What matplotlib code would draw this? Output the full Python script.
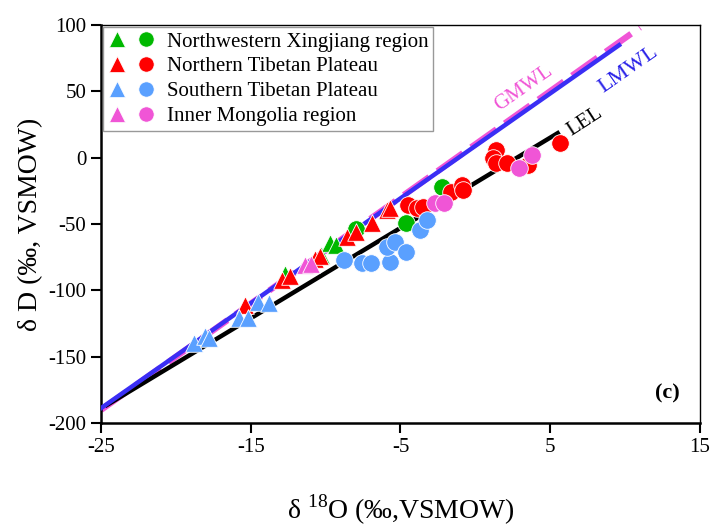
import numpy as np
import matplotlib.pyplot as plt
from matplotlib.legend_handler import HandlerTuple
from matplotlib.lines import Line2D

plt.rcParams["font.family"] = ["Liberation Serif", "DejaVu Serif"]
plt.rcParams["mathtext.fontset"] = "custom"
plt.rcParams["mathtext.rm"] = "Liberation Serif"
plt.rcParams["axes.unicode_minus"] = False

# Northwestern Xingjiang region
nx_tri_x = [-12.7, -10.3, -9.7, -9.3]
nx_tri_y = [-88, -73, -64, -65.5]
nx_cir_x = [-8.0, -4.6, -2.25]
nx_cir_y = [-53.5, -49.5, -22.5]

# Northern Tibetan Plateau
nt_tri_x = [-15.4, -12.9, -12.4, -10.7, -10.4, -8.6, -8.0, -6.9, -5.9, -5.7]
nt_tri_y = [-111, -92, -89, -76, -74, -59.5, -56, -49.5, -39.5, -38]
nt_cir_x = [-4.5, -3.9, -3.5, -1.6, -0.9, -0.8, 1.4, 1.2, 1.4, 2.1, 3.5, 5.65]
nt_cir_y = [-35.6, -38, -37, -25.6, -20.6, -24.3, 5.8, -0.5, -4.2, -4.2, -5.5, 10.9]

# Southern Tibetan Plateau
st_tri_x = [-18.8, -18.05, -17.8, -15.8, -15.2, -14.5, -13.8]
st_tri_y = [-139.5, -134, -135.5, -121, -121, -108.5, -109.7]
st_cir_x = [-8.8, -7.6, -7.0, -5.7, -5.9, -5.4, -4.6, -3.7, -3.25]
st_cir_y = [-77, -79.6, -79.6, -78.4, -67, -63.3, -70.8, -54.5, -47]

# Inner Mongolia region
im_tri_x = [-11.4, -11.0]
im_tri_y = [-81, -80]
im_cir_x = [-2.7, -2.1, 3.75, 2.9]
im_cir_y = [-34.4, -34.4, 2.0, -8.0]

# water lines: slope, intercept, x-range
gmwl = (8.0, 10.0, -25, 11.0)
lmwl = (7.9, 8.8, -25, 9.6)
lel = (6.8, -19.0, -24.6, 5.5)

GREEN = "#00B800"
RED = "#FF0000"
BLUE = "#5AA0FF"
PINK = "#F055D6"


def line_pts(p):
    k, b, x0, x1 = p
    xs = np.array([x0, x1])
    return xs, k * xs + b


fig = plt.figure(figsize=(7.13, 5.27), dpi=100)
ax = fig.add_axes([0.1417, 0.197, 0.840, 0.756])

xs, ys = line_pts(gmwl)
ax.plot(xs, ys, color=PINK, lw=4.5, ls=(0, (5, 1.6)), zorder=2)
xs, ys = line_pts(lel)
ax.plot(xs, ys, color="black", lw=3.2, zorder=3)
xs, ys = line_pts(lmwl)
ax.plot(xs, ys, color="#3A2EF5", lw=3.2, zorder=3)

mk = dict(s=160, edgecolors="white", linewidths=0.6, zorder=5)
groups = [
    (nx_tri_x, nx_tri_y, nx_cir_x, nx_cir_y, GREEN),
    (nt_tri_x, nt_tri_y, nt_cir_x, nt_cir_y, RED),
    (st_tri_x, st_tri_y, st_cir_x, st_cir_y, BLUE),
    (im_tri_x, im_tri_y, im_cir_x, im_cir_y, PINK),
]
for tx, ty, cx, cy, c in groups:
    ax.scatter(tx, ty, marker="^", color=c, **mk)
    ax.scatter(cx, cy, marker="o", color=c, **mk)

ax.text(3.2, 52.5, "GMWL", color=PINK, fontsize=15, rotation=35,
        ha="center", va="center")
ax.text(10.2, 66, "LMWL", color="#2A22E8", fontsize=16, rotation=35,
        ha="center", va="center")
ax.text(7.3, 27, "LEL", color="black", fontsize=15, rotation=33,
        ha="center", va="center")
ax.text(12.8, -178, "(c)", fontsize=16, fontweight="bold",
        ha="center", va="center")

ax.set_xlim(-25, 15)
ax.set_ylim(-200, 100)
ax.set_xticks([-25, -15, -5, 5, 15])
ax.set_yticks([-200, -150, -100, -50, 0, 50, 100])
ax.tick_params(direction="out", length=7, width=1.5, labelsize=15)
for side in ["left", "bottom"]:
    ax.spines[side].set_linewidth(1.8)
for side in ["top", "right"]:
    ax.spines[side].set_linewidth(1.0)

ax.set_xlabel(r"δ $^{18}$O (‰,VSMOW)", fontsize=20, labelpad=26)
ax.set_ylabel("δ D (‰, VSMOW)", fontsize=20, labelpad=4)

labels = ["Northwestern Xingjiang region", "Northern Tibetan Plateau",
          "Southern Tibetan Plateau", "Inner Mongolia region"]
handles = []
for c in [GREEN, RED, BLUE, PINK]:
    t = Line2D([], [], marker="^", color=c, ls="none", markersize=11,
               markeredgecolor="white", markeredgewidth=0.5)
    o = Line2D([], [], marker="o", color=c, ls="none", markersize=11,
               markeredgecolor="white", markeredgewidth=0.5)
    handles.append((t, o))
leg = ax.legend(handles, labels, loc="upper left", fontsize=15,
                handler_map={tuple: HandlerTuple(ndivide=None, pad=0.6)},
                handlelength=2.2, handletextpad=0.6, labelspacing=0.25,
                borderaxespad=0.1, borderpad=0.25, fancybox=False,
                edgecolor="#999999", framealpha=1)
leg.get_frame().set_linewidth(1.0)

fig.savefig("out.png", dpi=100)
